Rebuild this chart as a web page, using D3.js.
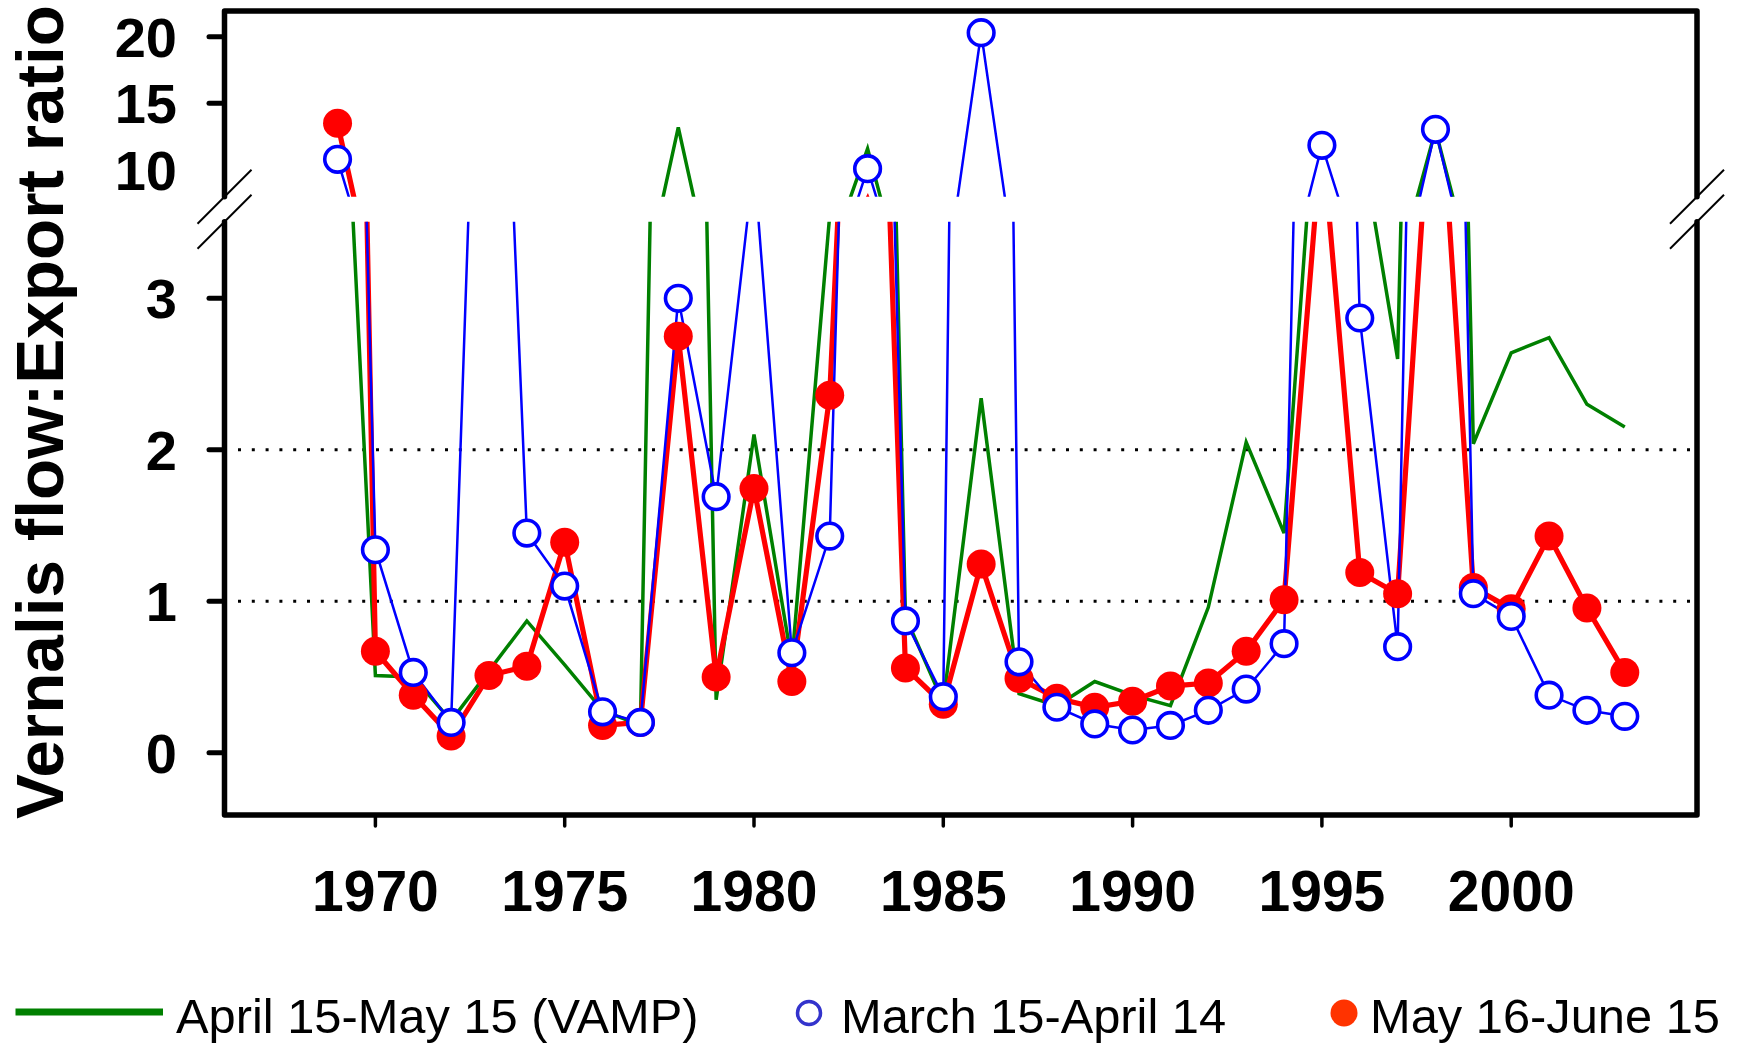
<!DOCTYPE html>
<html><head><meta charset="utf-8">
<script src="https://cdn.jsdelivr.net/npm/d3@7"></script>
<style>
body{margin:0;background:#fff}
svg{display:block}
text{font-family:"Liberation Sans",Arial,Helvetica,sans-serif}
</style>
</head><body>
<svg id="c" width="1738" height="1044"></svg>
<script>
// ---------------- data ----------------
const years = [1969,1970,1971,1972,1973,1974,1975,1976,1977,1978,1979,1980,1981,1982,1983,1984,1985,1986,1987,1988,1989,1990,1991,1992,1993,1994,1995,1996,1997,1998,1999,2000,2001,2002,2003];
const vampApr15May15 = [5.6,0.51,0.50,0.21,0.54,0.87,0.58,0.28,0.18,13.2,0.35,2.10,0.60,3.55,11.6,0.90,0.33,2.34,0.39,0.31,0.47,0.38,0.31,0.96,2.05,1.45,4.9,4.1,2.6,13.0,2.04,2.64,2.74,2.30,2.15];
const mar15Apr14 = [10.8,1.34,0.53,0.20,7.5,1.45,1.10,0.27,0.20,3.00,1.69,3.9,0.66,1.43,10.1,0.87,0.37,20.3,0.60,0.30,0.19,0.15,0.18,0.28,0.42,0.72,11.85,2.87,0.70,13.05,1.05,0.90,0.38,0.28,0.24];
const may16Jun15 = [13.5,0.67,0.38,0.11,0.51,0.57,1.39,0.18,0.20,2.75,0.50,1.745,0.47,2.36,7.8,0.56,0.32,1.245,0.49,0.36,0.30,0.34,0.44,0.46,0.67,1.01,4.1,1.19,1.05,4.9,1.09,0.95,1.43,0.955,0.53];
const xTickValues = [1970,1975,1980,1985,1990,1995,2000];
const upperTickLabels = [10,15,20];
const upperTickMarks = [15,20];
const lowerTicks = [0,1,2,3];
const gridValues = [1,2];
const legendLabels = ["April 15-May 15 (VAMP)","March 15-April 14","May 16-June 15"];
const yTitle = "Vernalis flow:Export ratio";

// ---------------- layout ----------------
const svg = d3.select("#c");
svg.append("rect").attr("width",1738).attr("height",1044).attr("fill","#fff");
const L=224.5, R=1697, T=11, UB=196.7, LT=221.7, B=815;

const x = d3.scaleLinear().domain([1970,2000]).range([375.4,1511.2]);
const yU = d3.scaleLinear().domain([10,20]).range([170,36.7]);
const yL = d3.scaleLinear().domain([0,3]).range([752.7,298.3]);

const defs = svg.append("defs");
defs.append("clipPath").attr("id","cu").append("rect").attr("x",L).attr("y",T).attr("width",R-L).attr("height",UB-T);
defs.append("clipPath").attr("id","cl").append("rect").attr("x",L).attr("y",LT).attr("width",R-L).attr("height",B-LT);

// grid (dotted) in lower panel
svg.selectAll("line.grid").data(gridValues).join("line")
  .attr("x1",238).attr("x2",1690)
  .attr("y1",d=>yL(d)).attr("y2",d=>yL(d))
  .attr("stroke","#000").attr("stroke-width",3)
  .attr("stroke-dasharray","3 10.8");

const series = [
  {vals:vampApr15May15, color:"#008000", w:3.5, marker:null},
  {vals:may16Jun15, color:"#ff0000", w:5.2, marker:"filled"},
  {vals:mar15Apr14, color:"#0000ff", w:2.5, marker:"open"}
];
const panels = [
  {y:yU, clip:"cu", top:T, bot:UB},
  {y:yL, clip:"cl", top:LT, bot:B}
];

panels.forEach(p=>{
  const g = svg.append("g");
  const lg = g.append("g").attr("clip-path",`url(#${p.clip})`);
  series.forEach(s=>{
    const pts = years.map((yr,i)=>({yr, v:s.vals[i]}));
    const line = d3.line().x(d=>x(d.yr)).y(d=>p.y(d.v));
    lg.append("path").attr("d",line(pts)).attr("fill","none")
      .attr("stroke",s.color).attr("stroke-width",s.w).attr("stroke-linejoin","miter");
    if(s.marker){
      const vis = pts.filter(d=>p.y(d.v)>=p.top && p.y(d.v)<=p.bot);
      const mg = g.append("g");
      if(s.marker==="filled"){
        mg.selectAll("circle").data(vis).join("circle")
          .attr("cx",d=>x(d.yr)).attr("cy",d=>p.y(d.v)).attr("r",14.5)
          .attr("fill",s.color);
      } else {
        mg.selectAll("circle").data(vis).join("circle")
          .attr("cx",d=>x(d.yr)).attr("cy",d=>p.y(d.v)).attr("r",12.8)
          .attr("fill","#fff").attr("stroke",s.color).attr("stroke-width",3.6);
      }
    }
  });
});

// frame
const frame = svg.append("g").attr("fill","none").attr("stroke","#000")
  .attr("stroke-width",5.5).attr("stroke-linecap","round").attr("stroke-linejoin","round");
frame.append("path").attr("d",`M${L},${UB}L${L},${T}L${R},${T}L${R},${UB}`);
frame.append("path").attr("d",`M${L},${LT}L${L},${B}L${R},${B}L${R},${LT}`);

// break marks
const brk = svg.append("g").attr("stroke","#000").attr("stroke-width",2);
[L,R].forEach(cx=>{
  [UB,LT].forEach(cy=>{
    brk.append("line").attr("x1",cx-27).attr("y1",cy+27).attr("x2",cx+27).attr("y2",cy-27);
  });
});

// y ticks
const yt = svg.append("g").attr("stroke","#000").attr("stroke-width",5).attr("stroke-linecap","round");
yt.selectAll("line.u").data(upperTickMarks).join("line")
  .attr("x1",209).attr("x2",L).attr("y1",d=>yU(d)).attr("y2",d=>yU(d));
yt.selectAll("line.l").data(lowerTicks).join("line")
  .attr("x1",209).attr("x2",L).attr("y1",d=>yL(d)).attr("y2",d=>yL(d));

const ylab = svg.append("g").attr("font-size",56).attr("font-weight","bold").attr("text-anchor","end").attr("fill","#000");
ylab.selectAll("text.u").data(upperTickLabels).join("text")
  .attr("x",177).attr("y",d=>yU(d)+20).text(d=>d);
ylab.selectAll("text.l").data(lowerTicks).join("text")
  .attr("x",177).attr("y",d=>yL(d)+20).text(d=>d);

// x ticks
svg.append("g").attr("stroke","#000").attr("stroke-width",3.5).attr("stroke-linecap","round")
  .selectAll("line").data(xTickValues).join("line")
  .attr("x1",d=>x(d)).attr("x2",d=>x(d)).attr("y1",B).attr("y2",826);
svg.append("g").attr("font-size",57).attr("font-weight","bold").attr("text-anchor","middle")
  .selectAll("text").data(xTickValues).join("text")
  .attr("x",d=>x(d)).attr("y",911).text(d=>d);

// y title
svg.append("text").attr("transform","translate(63,412) rotate(-90)")
  .attr("text-anchor","middle").attr("font-size",67.5).attr("font-weight","bold").text(yTitle);

// legend
const lgd = svg.append("g");
lgd.append("line").attr("x1",15.5).attr("x2",163).attr("y1",1012).attr("y2",1012)
  .attr("stroke","#008000").attr("stroke-width",7);
lgd.append("circle").attr("cx",809).attr("cy",1013).attr("r",11.5)
  .attr("fill","#fff").attr("stroke","#3333cc").attr("stroke-width",3.5);
lgd.append("circle").attr("cx",1344).attr("cy",1013).attr("r",13.5).attr("fill","#ff3300");
const lx = [176,841,1370];
lgd.selectAll("text").data(legendLabels).join("text")
  .attr("x",(d,i)=>lx[i]).attr("y",1033).attr("font-size",48.8).text(d=>d);
</script>
</body></html>
